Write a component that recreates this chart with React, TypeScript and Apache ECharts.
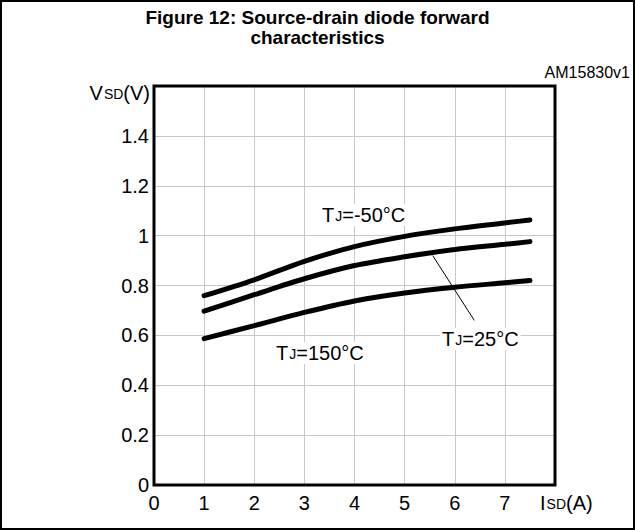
import React, { useEffect, useRef } from "react";
import * as echarts from "echarts";

const isd = [1, 2, 3, 4, 5, 6, 7, 7.5];
const vsdMinus50 = [0.759, 0.823, 0.897, 0.956, 0.997, 1.027, 1.051, 1.063];
const vsd25 = [0.697, 0.763, 0.827, 0.88, 0.915, 0.944, 0.965, 0.976];
const vsd150 = [0.587, 0.639, 0.692, 0.738, 0.77, 0.793, 0.811, 0.82];
const xTicks = [0, 1, 2, 3, 4, 5, 6, 7];
const yTickLabels = ["0", "0.2", "0.4", "0.6", "0.8", "1", "1.2", "1.4"];
const arrowFrom = [6.39, 0.66];
const arrowTo = [5.56, 0.92];

const FONT = "'Liberation Sans', Arial, Helvetica, sans-serif";

const pair = (xs: number[], ys: number[]) => xs.map((x, i) => [x, ys[i]]);

const richLabel = {
  n: { fontSize: 20, fontFamily: FONT, color: "#000", verticalAlign: "bottom" as const },
  s: { fontSize: 14, fontFamily: FONT, color: "#000", verticalAlign: "bottom" as const, padding: [0, 0, 2, 1] },
};

export default function App() {
  const ref = useRef<HTMLDivElement>(null);
  useEffect(() => {
    document.body.style.margin = "0";
    const chart = echarts.init(ref.current!, undefined, { renderer: "svg" });
    const lineSeries = (name: string, ys: number[], extra: any = {}) => ({
      name,
      type: "line",
      data: pair(isd, ys),
      smooth: 0.3,
      symbol: "none",
      lineStyle: { color: "#000", width: 5, cap: "round" },
      z: 3,
      ...extra,
    });
    const annotation = (text: string, x: number, y: number) => ({
      type: "text",
      x,
      y,
      z: 5,
      style: {
        text,
        rich: richLabel,
        verticalAlign: "middle",
        align: "left",
        backgroundColor: "#fff",
        padding: [1, 2, 1, 2],
      },
    });
    chart.setOption({
      animation: false,
      backgroundColor: "#fff",
      title: {
        text: "Figure 12: Source-drain diode forward\ncharacteristics",
        left: "center",
        top: 2,
        textStyle: { fontFamily: FONT, fontSize: 19, fontWeight: "bold", color: "#000", lineHeight: 20 },
      },
      grid: {
        left: 154,
        top: 86,
        width: 401,
        height: 399,
        show: true,
        borderColor: "#000",
        borderWidth: 3,
        z: 4,
      },
      xAxis: {
        type: "value",
        min: 0,
        max: 8,
        interval: 1,
        name: "{n|I}{s|SD}{n|(A)}",
        nameLocation: "end",
        nameGap: -15,
        nameTextStyle: {
          align: "left",
          verticalAlign: "top",
          padding: [8, 0, 0, 0],
          rich: richLabel,
        },
        axisLine: { show: false },
        axisTick: { show: false },
        splitLine: { show: true, lineStyle: { color: "#c8c8c8", width: 1 } },
        axisLabel: {
          margin: 8,
          fontFamily: FONT,
          fontSize: 20,
          color: "#000",
          formatter: (v: number) => (xTicks.includes(v) ? String(v) : ""),
        },
      },
      yAxis: {
        type: "value",
        min: 0,
        max: 1.6,
        interval: 0.2,
        name: "{n|V}{s|SD}{n|(V)}",
        nameLocation: "end",
        nameGap: -7,
        nameTextStyle: {
          align: "right",
          verticalAlign: "middle",
          padding: [0, 4, 0, 0],
          rich: richLabel,
        },
        axisLine: { show: false },
        axisTick: { show: false },
        splitLine: { show: true, lineStyle: { color: "#c8c8c8", width: 1 } },
        axisLabel: {
          margin: 5,
          fontFamily: FONT,
          fontSize: 20,
          color: "#000",
          formatter: (v: number) => {
            const i = Math.round(v / 0.2);
            return i < yTickLabels.length ? yTickLabels[i] : "";
          },
        },
      },
      series: [
        lineSeries("TJ=-50°C", vsdMinus50),
        lineSeries("TJ=25°C", vsd25, {
          markLine: {
            silent: true,
            symbol: ["none", "arrow"],
            symbolSize: [0, 7],
            label: { show: false },
            lineStyle: { type: "solid", color: "#000", width: 1 },
            data: [[{ coord: arrowFrom }, { coord: arrowTo }]],
          },
        }),
        lineSeries("TJ=150°C", vsd150),
      ],
      graphic: [
        {
          type: "rect",
          shape: { x: 1, y: 1, width: 633, height: 528 },
          style: { fill: "none", stroke: "#000", lineWidth: 2 },
          z: 10,
        },
        {
          type: "text",
          right: 5,
          top: 64,
          style: { text: "AM15830v1", font: `16px ${FONT}`, fill: "#000" },
        },
        annotation("{n|T}{s|J}{n|=-50°C}", 320, 215),
        annotation("{n|T}{s|J}{n|=25°C}", 440, 339),
        annotation("{n|T}{s|J}{n|=150°C}", 274, 353),
      ],
    });
    return () => chart.dispose();
  }, []);
  return <div ref={ref} style={{ width: 635, height: 530 }} />;
}
